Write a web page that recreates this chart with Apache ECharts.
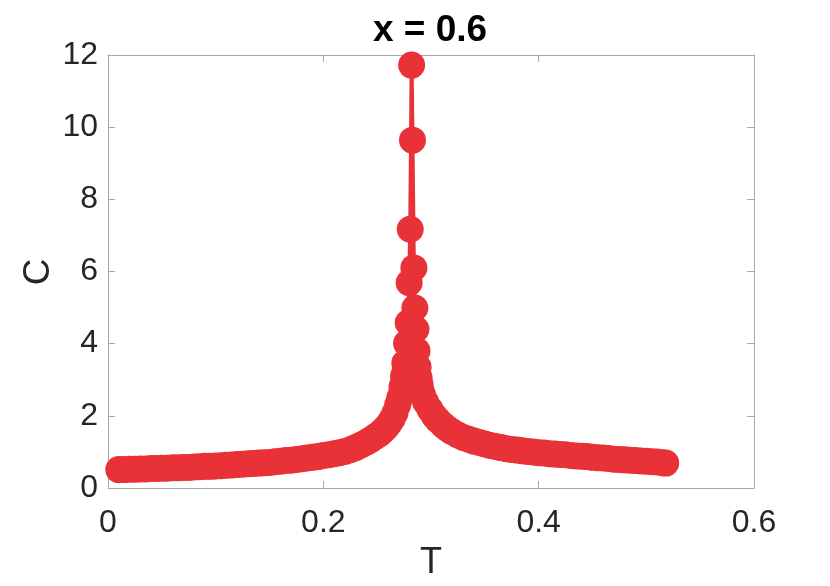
<!DOCTYPE html>
<html>
<head>
<meta charset="utf-8">
<title>x = 0.6</title>
<script src="https://cdn.jsdelivr.net/npm/echarts@6/dist/echarts.min.js"></script>
<style>
  html, body { margin: 0; padding: 0; background: #fff; }
  #chart { width: 830px; height: 586px; }
</style>
</head>
<body>
<div id="chart"></div>
<script>
// 温度 T
const temps = [
  0.010, 0.015, 0.020, 0.025, 0.030, 0.035, 0.040, 0.045, 0.050, 0.055,
  0.060, 0.065, 0.070, 0.075, 0.080, 0.085, 0.090, 0.095, 0.100, 0.105,
  0.110, 0.115, 0.120, 0.125, 0.130, 0.135, 0.140, 0.145, 0.150, 0.155,
  0.160, 0.165, 0.170, 0.175, 0.180, 0.185, 0.190, 0.195, 0.200, 0.205,
  0.210, 0.215, 0.220, 0.225, 0.230, 0.235, 0.240, 0.244, 0.248, 0.252,
  0.255, 0.258, 0.261, 0.264, 0.2665, 0.269, 0.271, 0.273, 0.2745, 0.2757,
  0.2773, 0.2788, 0.2797, 0.2807, 0.2820, 0.2828, 0.2841, 0.2850, 0.2860, 0.2870,
  0.2880, 0.2890, 0.2900, 0.2920, 0.2950, 0.2990, 0.3030, 0.3065, 0.3110, 0.3150,
  0.3190, 0.3250, 0.3300, 0.3350, 0.3400, 0.345, 0.350, 0.355, 0.360, 0.365,
  0.370, 0.375, 0.380, 0.385, 0.390, 0.395, 0.400, 0.405, 0.410, 0.415,
  0.420, 0.425, 0.430, 0.435, 0.440, 0.445, 0.450, 0.455, 0.460, 0.465,
  0.470, 0.475, 0.480, 0.485, 0.490, 0.495, 0.500, 0.505, 0.510, 0.515,
  0.518
];

// 比热 C
const heat = [
  0.51, 0.51, 0.52, 0.52, 0.53, 0.53, 0.54, 0.54, 0.55, 0.55,
  0.56, 0.56, 0.57, 0.57, 0.58, 0.59, 0.60, 0.60, 0.61, 0.62,
  0.63, 0.64, 0.65, 0.66, 0.67, 0.68, 0.69, 0.70, 0.71, 0.73,
  0.74, 0.76, 0.77, 0.79, 0.81, 0.83, 0.85, 0.87, 0.90, 0.92,
  0.95, 0.98, 1.01, 1.06, 1.12, 1.19, 1.27, 1.34, 1.42, 1.50,
  1.58, 1.67, 1.78, 1.92, 2.08, 2.30, 2.50, 2.80, 3.10, 3.46,
  4.01, 4.58, 5.69, 7.17, 11.72, 9.64, 6.10, 4.99, 4.40, 3.80,
  3.35, 3.05, 2.85, 2.60, 2.38, 2.18, 2.00, 1.88, 1.75, 1.65,
  1.57, 1.47, 1.40, 1.35, 1.30, 1.26, 1.22, 1.18, 1.15, 1.12,
  1.09, 1.07, 1.05, 1.03, 1.01, 1.00, 0.98, 0.97, 0.95, 0.94,
  0.93, 0.92, 0.90, 0.89, 0.88, 0.87, 0.85, 0.84, 0.83, 0.82,
  0.80, 0.79, 0.78, 0.77, 0.76, 0.75, 0.74, 0.73, 0.72, 0.70,
  0.69
];

const xTicks = [0, 0.2, 0.4, 0.6];
const yTicks = [0, 2, 4, 6, 8, 10, 12];

const RED = '#e83237';
const AXIS_GRAY = '#a8a8a8';
const TEXT = '#262626';
const FONT = '"Liberation Sans", Arial, Helvetica, sans-serif';

const chart = echarts.init(document.getElementById('chart'));

// 边框 + 朝内的刻度
function frameAxis(extra) {
  return Object.assign({
    axisLine: { show: true, onZero: false, lineStyle: { color: AXIS_GRAY, width: 1 } },
    axisTick: { show: true, inside: true, length: 7, lineStyle: { color: AXIS_GRAY } },
    splitLine: { show: false }
  }, extra);
}

chart.setOption({
  animation: false,
  title: {
    text: 'x = 0.6',
    left: 425,
    textAlign: 'center',
    top: 7,
    textStyle: { fontFamily: FONT, fontSize: 37, fontWeight: 'bold', color: '#000' }
  },
  // y 轴名称单独放，位置好控制
  graphic: [{
    type: 'text',
    x: 39,
    y: 272,
    rotation: Math.PI / 2,
    style: {
      text: 'C',
      fontFamily: FONT,
      fontSize: 37,
      fill: TEXT,
      textAlign: 'center',
      textVerticalAlign: 'middle'
    }
  }],
  grid: { left: 108, right: 76, top: 55, bottom: 98 },
  xAxis: [
    frameAxis({
      type: 'value',
      min: xTicks[0],
      max: xTicks[xTicks.length - 1],
      interval: 0.2,
      name: 'T',
      nameLocation: 'middle',
      nameGap: 57,
      nameMoveOverlap: false,
      nameTextStyle: { fontFamily: FONT, fontSize: 36, color: TEXT },
      axisLabel: {
        fontFamily: FONT, fontSize: 32, color: TEXT, margin: 19,
        formatter: v => String(+v.toFixed(1))
      }
    }),
    frameAxis({
      type: 'value', position: 'top',
      min: xTicks[0], max: xTicks[xTicks.length - 1], interval: 0.2,
      axisLabel: { show: false }
    })
  ],
  yAxis: [
    frameAxis({
      type: 'value',
      min: yTicks[0],
      max: yTicks[yTicks.length - 1],
      interval: 2,
      axisLabel: { fontFamily: FONT, fontSize: 32, color: TEXT, margin: 10, padding: [5, 0, 0, 0] }
    }),
    frameAxis({
      type: 'value', position: 'right',
      min: yTicks[0], max: yTicks[yTicks.length - 1], interval: 2,
      axisLabel: { show: false }
    })
  ],
  series: [{
    type: 'line',
    xAxisIndex: 0,
    yAxisIndex: 0,
    data: temps.map((t, i) => [t, heat[i]]),
    symbol: 'circle',
    symbolSize: 27,
    showSymbol: true,
    showAllSymbol: true,
    lineStyle: { color: RED, width: 4 },
    itemStyle: { color: RED, borderWidth: 0 },
    clip: false
  }]
});
</script>
</body>
</html>
